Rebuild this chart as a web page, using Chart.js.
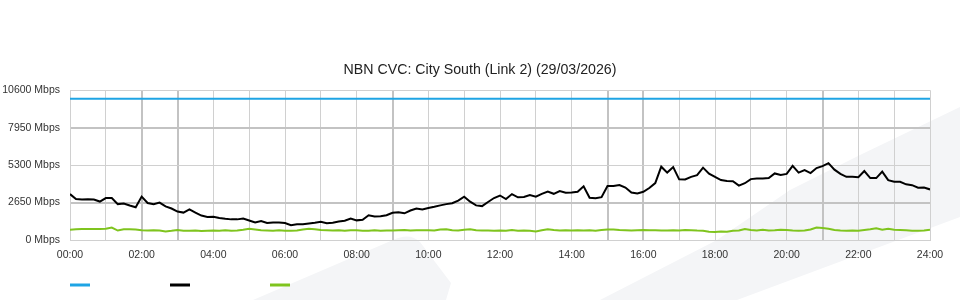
<!DOCTYPE html>
<html>
<head>
<meta charset="utf-8">
<title>NBN CVC</title>
<script src="https://cdn.jsdelivr.net/npm/chart.js@4.4.1/dist/chart.umd.min.js"></script>
<style>
	html, body { margin: 0; padding: 0; background: #fff; }
	#wrap { position: relative; width: 960px; height: 300px; }
</style>
</head>
<body>
<div id="wrap"><canvas id="cvcChart"></canvas></div>
<script>
// # ===============================
// # = Donnees (Mbps, pas de 10 minutes depuis 00:00)
// # ===============================
var stepMinutes = 10;
var capacityTimes = [0, 1440];
var capacityMbps = [10000, 10000];

var trafficMbps = [
	3250, 2900, 2860, 2880, 2860, 2720, 2970, 2970, 2540, 2580, 2440, 2320,
	3070, 2620, 2540, 2650, 2380, 2230, 2010, 1940, 2160, 1940, 1730, 1630,
	1650, 1560, 1500, 1460, 1460, 1520, 1380, 1240, 1340, 1200, 1240, 1240,
	1200, 1040, 1110, 1120, 1170, 1220, 1290, 1190, 1220, 1310, 1360, 1520,
	1390, 1430, 1750, 1660, 1680, 1750, 1930, 1970, 1890, 2090, 2230, 2160,
	2260, 2350, 2450, 2540, 2600, 2790, 3070, 2710, 2450, 2400, 2690, 2970,
	3150, 2900, 3250, 3020, 3040, 3180, 3070, 3270, 3430, 3270, 3460, 3350,
	3370, 3410, 3800, 2990, 2950, 3030, 3820, 3820, 3890, 3710, 3360, 3300,
	3410, 3680, 4030, 5190, 4770, 5160, 4290, 4280, 4470, 4590, 5120, 4700,
	4470, 4240, 4170, 4160, 3850, 4020, 4310, 4360, 4360, 4380, 4710, 4610,
	4680, 5250, 4770, 4950, 4740, 5090, 5230, 5440, 4980, 4680, 4470, 4470,
	4450, 4880, 4380, 4380, 4840, 4240, 4130, 4120, 3940, 3880, 3700, 3710,
	3580
];

var upstreamMbps = [
	730, 760, 780, 780, 780, 780, 790, 880, 670, 760, 760, 740,
	690, 670, 690, 670, 600, 650, 710, 660, 660, 670, 640, 660,
	670, 660, 690, 650, 670, 720, 790, 740, 690, 670, 650, 690,
	650, 660, 670, 740, 790, 760, 710, 690, 670, 690, 660, 690,
	690, 660, 660, 690, 660, 670, 670, 690, 710, 670, 690, 690,
	690, 670, 740, 760, 690, 670, 730, 760, 690, 670, 670, 650,
	670, 650, 710, 660, 670, 650, 600, 690, 760, 710, 670, 690,
	670, 690, 670, 690, 660, 710, 740, 740, 710, 690, 670, 690,
	710, 690, 690, 670, 670, 690, 670, 710, 690, 670, 660, 590,
	570, 600, 580, 650, 670, 780, 710, 670, 720, 670, 690, 720,
	710, 670, 650, 670, 740, 880, 850, 790, 710, 670, 660, 670,
	650, 710, 760, 830, 720, 790, 720, 710, 690, 650, 650, 670,
	720
];

var yTicks = [0, 2650, 5300, 7950, 10600];
var heavyY = [2650, 7950];
var heavyHours = [2, 3, 9, 15, 16, 21];
var legendSpacer = '\u2003\u2003\u2003\u2003\u2003\u2003\u2002';

function toPoints(values, times) {
	return values.map(function(v, i) {
		return { x: times ? times[i] : i * stepMinutes, y: v };
	});
}

function hhmm(minutes) {
	var h = Math.round(minutes / 60);
	return (h < 10 ? '0' : '') + h + ':00';
}

// # ===============================
// # = Fond (filigrane gris clair)
// # ===============================
var watermark = {
	id: 'watermark',
	beforeDraw: function(chart) {
		var c = chart.ctx;
		c.save();
		c.fillStyle = '#f4f5f7';
		c.beginPath();
		c.moveTo(253, 300);
		c.lineTo(393, 240);
		c.quadraticCurveTo(410, 232, 420, 242);
		c.lineTo(451, 283);
		c.lineTo(446, 300);
		c.closePath();
		c.fill();
		c.beginPath();
		c.moveTo(600, 300);
		c.lineTo(717, 240);
		c.lineTo(790, 190);
		c.lineTo(860, 155);
		c.lineTo(960, 107);
		c.lineTo(960, 217);
		c.lineTo(737, 300);
		c.closePath();
		c.fill();
		c.restore();
	}
};

// legende alignee sur le bord gauche de la zone du graphe
var legendShift = {
	id: 'legendShift',
	afterLayout: function(chart) {
		chart.legend.left = chart.chartArea.left - chart.legend.options.labels.padding;
	}
};

Chart.defaults.font.family = '"Liberation Sans", Arial, sans-serif';
Chart.defaults.font.size = 10.5;
Chart.defaults.color = '#333';

const ctx = document.getElementById('cvcChart');

new Chart(ctx, {
	type: 'line',
	data: {
		datasets: [{
			label: 'Capacity',
			data: toPoints(capacityMbps, capacityTimes),
			borderColor: '#1ea4e4',
			backgroundColor: '#1ea4e4',
			borderWidth: 2
		}, {
			label: 'Traffic',
			data: toPoints(trafficMbps),
			borderColor: '#000000',
			backgroundColor: '#000000',
			borderWidth: 2
		}, {
			label: 'Upstream',
			data: toPoints(upstreamMbps),
			borderColor: '#7fc41e',
			backgroundColor: '#7fc41e',
			borderWidth: 2
		}]
	},
	options: {
		responsive: true,
		maintainAspectRatio: false,
		animation: false,
		events: [],
		elements: {
			point: { radius: 0 },
			line: { tension: 0 }
		},
		layout: {
			padding: { top: 61.6, left: 0, right: 0, bottom: 0 }
		},
		plugins: {
			title: {
				display: true,
				text: 'NBN CVC: City South (Link 2) (29/03/2026)',
				color: '#222',
				font: { size: 14.2, weight: 'normal' },
				padding: { top: 0, bottom: 11.6 }
			},
			legend: {
				display: true,
				position: 'bottom',
				align: 'start',
				labels: {
					boxWidth: 20,
					boxHeight: 3,
					padding: 10,
					font: { size: 10 },
					generateLabels: function(chart) {
						var items = Chart.defaults.plugins.legend.labels.generateLabels(chart);
						items.forEach(function(item) {
							item.text = legendSpacer;
							item.lineWidth = 0;
							item.fillStyle = item.strokeStyle;
						});
						return items;
					}
				}
			},
			tooltip: { enabled: false }
		},
		scales: {
			x: {
				type: 'linear',
				min: 0,
				max: 1440,
				afterFit: function(scale) { scale.height = 30; },
				ticks: {
					stepSize: 60,
					autoSkip: false,
					maxRotation: 0,
					padding: 9,
					color: '#333',
					callback: function(value) {
						return value % 120 === 0 ? hhmm(value) : '';
					}
				},
				grid: {
					drawTicks: false,
					color: function(c) {
						return c.tick && heavyHours.indexOf(c.tick.value / 60) >= 0 ? '#c3c3c3' : '#d0d0d0';
					},
					lineWidth: function(c) {
						return c.tick && heavyHours.indexOf(c.tick.value / 60) >= 0 ? 2 : 1;
					}
				},
				border: { color: '#d0d0d0' }
			},
			y: {
				position: 'left',
				min: 0,
				max: 10600,
				afterFit: function(scale) { scale.width = 70; },
				afterBuildTicks: function(scale) {
					scale.ticks = yTicks.map(function(v) { return { value: v }; });
				},
				ticks: {
					padding: 10,
					color: '#333',
					callback: function(value) {
						return value + ' Mbps';
					}
				},
				grid: {
					drawTicks: false,
					color: function(c) {
						return c.tick && heavyY.indexOf(c.tick.value) >= 0 ? '#c3c3c3' : '#d0d0d0';
					},
					lineWidth: function(c) {
						return c.tick && heavyY.indexOf(c.tick.value) >= 0 ? 2 : 1;
					}
				},
				border: { color: '#d0d0d0' }
			},
			// marge droite vide, garde le titre centre sur la page
			yRight: {
				position: 'right',
				afterFit: function(scale) { scale.width = 30; },
				ticks: { display: false },
				grid: { display: false },
				border: { display: false }
			}
		}
	},
	plugins: [watermark, legendShift]
});
</script>
</body>
</html>
